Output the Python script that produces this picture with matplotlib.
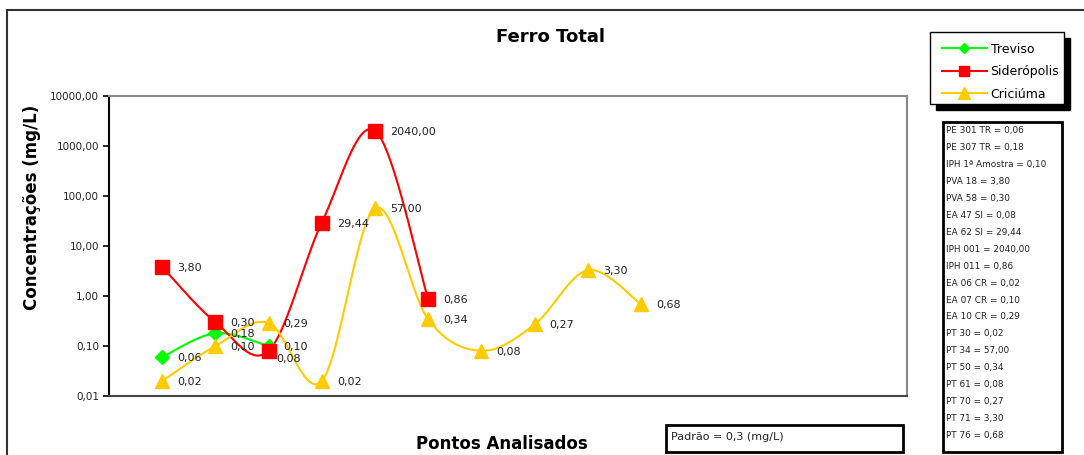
import numpy as np
import matplotlib.pyplot as plt
from matplotlib.patches import Rectangle
from matplotlib.lines import Line2D

## Dados (Ferro Total, mg/L)
pontos_treviso = [1, 2, 3]
treviso = [0.06, 0.18, 0.10]

pontos_sideropolis = [1, 2, 3, 4, 5, 6]
sideropolis = [3.80, 0.30, 0.08, 29.44, 2040.00, 0.86]

pontos_criciuma = [1, 2, 3, 4, 5, 6, 7, 8, 9, 10]
criciuma = [0.02, 0.10, 0.29, 0.02, 57.00, 0.34, 0.08, 0.27, 3.30, 0.68]

y_ticks = [0.01, 0.1, 1, 10, 100, 1000, 10000]

lista_pontos = [
    'PE 301 TR = 0,06', 'PE 307 TR = 0,18', 'IPH 1ª Amostra = 0,10',
    'PVA 18 = 3,80', 'PVA 58 = 0,30', 'EA 47 SI = 0,08', 'EA 62 SI = 29,44',
    'IPH 001 = 2040,00', 'IPH 011 = 0,86', 'EA 06 CR = 0,02', 'EA 07 CR = 0,10',
    'EA 10 CR = 0,29', 'PT 30 = 0,02', 'PT 34 = 57,00', 'PT 50 = 0,34',
    'PT 61 = 0,08', 'PT 70 = 0,27', 'PT 71 = 3,30', 'PT 76 = 0,68',
]
padrao = 'Padrão = 0,3 (mg/L)'


def virgula(v):
    return f'{v:.2f}'.replace('.', ',')


## Linha suavizada (estilo Excel) em espaço log
def suavizar(x, y, n=40):
    x = np.asarray(x, float)
    ly = np.log10(np.asarray(y, float))
    px = np.r_[x[0], x, x[-1]]
    py = np.r_[ly[0], ly, ly[-1]]
    xs, ys = [], []
    t = np.linspace(0, 1, n)
    for i in range(1, len(px) - 2):
        for p, out in ((px, xs), (py, ys)):
            p0, p1, p2, p3 = p[i - 1], p[i], p[i + 1], p[i + 2]
            out.extend(0.5 * (2 * p1 + (-p0 + p2) * t
                              + (2 * p0 - 5 * p1 + 4 * p2 - p3) * t ** 2
                              + (-p0 + 3 * p1 - 3 * p2 + p3) * t ** 3))
    return np.array(xs), 10 ** np.array(ys)


W, H = 1084, 455
fig = plt.figure(figsize=(W / 100, H / 100), dpi=100)
ax = fig.add_axes([109 / W, 1 - 396 / H, 798 / W, 300 / H])

series = [
    ('Treviso', pontos_treviso, treviso, '#00FF00', 'D', 7),
    ('Siderópolis', pontos_sideropolis, sideropolis, '#FF0000', 's', 9.5),
    ('Criciúma', pontos_criciuma, criciuma, '#FFCC00', '^', 10),
]

handles = []
for nome, x, y, cor, mk, ms in series:
    sx, sy = suavizar(x, y)
    ax.plot(sx, sy, color=cor, lw=1.5, zorder=2)
    ax.plot(x, y, ls='none', marker=mk, ms=ms, color=cor, zorder=3)
    handles.append(Line2D([], [], color=cor, lw=1.5, marker=mk, ms=ms * 0.8))
    for xi, yi in zip(x, y):
        dx, dy = 15, -1
        if nome == 'Siderópolis' and xi == 3:
            dx, dy = 8, -8
        ax.annotate(virgula(yi), (xi, yi), xytext=(dx, dy),
                    textcoords='offset pixels', ha='left', va='center',
                    fontsize=8, color='#222222', zorder=4)

ax.set_yscale('log')
ax.set_ylim(0.01, 10000)
ax.set_xlim(0, 15)
ax.set_yticks(y_ticks)
ax.set_yticklabels([virgula(v) for v in y_ticks], fontsize=7.5, color='#222222')
ax.minorticks_off()
ax.set_xticks([])
ax.tick_params(axis='y', length=4, width=1.2, pad=3)
ax.spines['left'].set_color('black')
ax.spines['left'].set_linewidth(1.5)
ax.spines['bottom'].set_color('#444444')
ax.spines['bottom'].set_linewidth(1.5)
ax.spines['top'].set_color('#888888')
ax.spines['top'].set_linewidth(1.5)
ax.spines['right'].set_color('#888888')
ax.spines['right'].set_linewidth(1.5)

## Textos
fig.text(550 / W, 1 - 37 / H, 'Ferro Total', ha='center', va='center',
         fontsize=13, fontweight='bold')
fig.text(32 / W, 1 - 207 / H, 'Concentrações (mg/L)', rotation=90,
         ha='center', va='center', fontsize=12, fontweight='bold')
fig.text(502 / W, 1 - 444 / H, 'Pontos Analisados', ha='center',
         va='center', fontsize=12, fontweight='bold')

## Moldura externa
fig.add_artist(Line2D([7 / W, 7 / W], [0, 1 - 10 / H], color='#333333',
                      lw=1.5, transform=fig.transFigure))
fig.add_artist(Line2D([7 / W, 1], [1 - 10 / H, 1 - 10 / H], color='#333333',
                      lw=1.5, transform=fig.transFigure))


def caixa(x0, y0, x1, y1, lw=1.5, sombra=False):
    if sombra:
        fig.add_artist(Rectangle((x0 / W + 6 / W, 1 - y1 / H - 6 / H),
                                 (x1 - x0) / W, (y1 - y0) / H,
                                 transform=fig.transFigure, fc='black',
                                 ec='black', zorder=1))
    fig.add_artist(Rectangle((x0 / W, 1 - y1 / H), (x1 - x0) / W,
                             (y1 - y0) / H, transform=fig.transFigure,
                             fc='white', ec='black', lw=lw, zorder=2))


## Legenda
caixa(930, 32, 1064, 104, lw=1, sombra=True)
leg = fig.legend(handles, [s[0] for s in series], loc='upper left',
                 bbox_to_anchor=(933 / W, 1 - 34 / H), frameon=False,
                 fontsize=9, handlelength=3.6, handletextpad=0.3,
                 labelspacing=0.75, borderpad=0.2)
leg.set_zorder(5)

## Lista de pontos
caixa(943, 122, 1062, 452, lw=2)
for i, txt in enumerate(lista_pontos):
    fig.text(946 / W, 1 - (131 + i * 16.9) / H, txt, ha='left', va='center',
             fontsize=6.4, color='#222222', zorder=5)

## Padrão
caixa(666, 425, 903, 452, lw=2)
fig.text(671 / W, 1 - 437 / H, padrao, ha='left', va='center', fontsize=8,
         color='#222222', zorder=5)

fig.savefig('out.png', dpi=100)
